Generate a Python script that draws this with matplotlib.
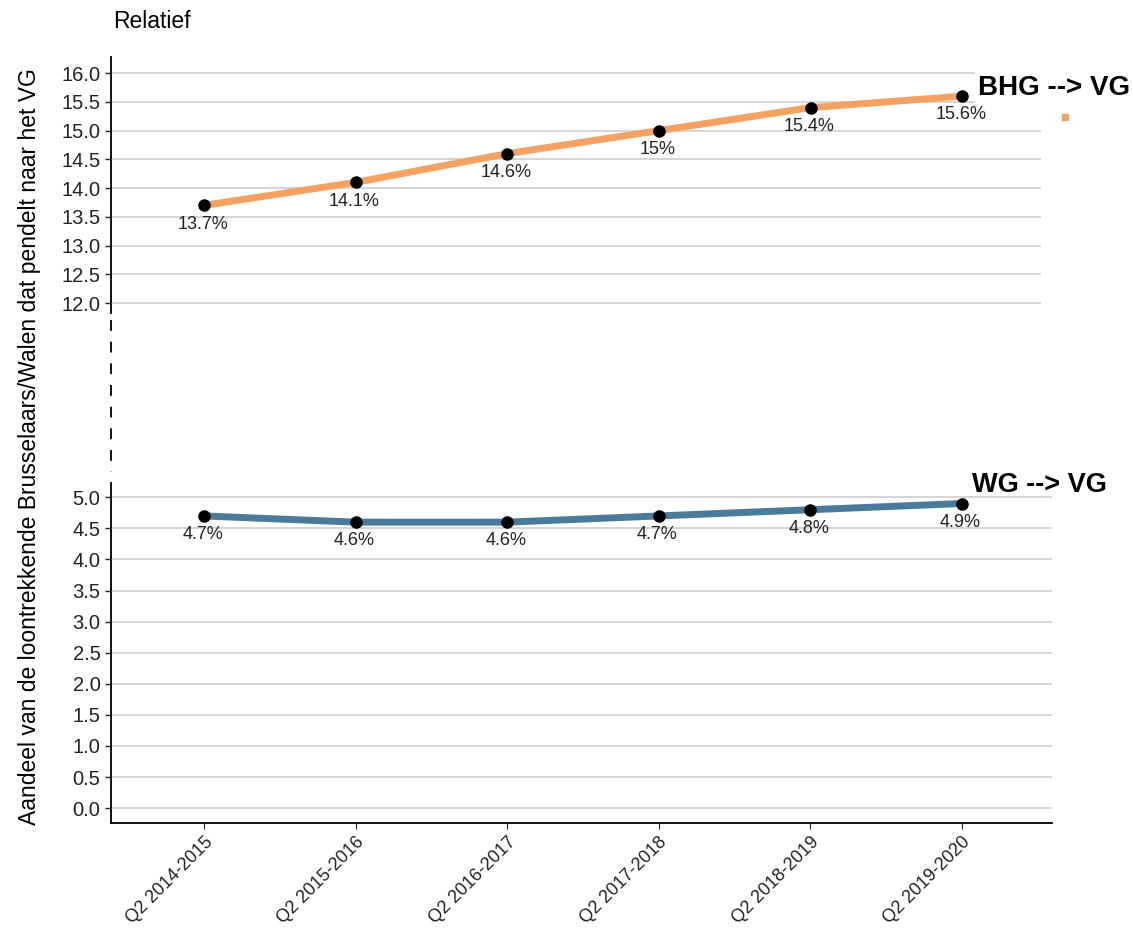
import numpy as np
import matplotlib
matplotlib.use("Agg")
import matplotlib.pyplot as plt
from matplotlib.lines import Line2D
from matplotlib.patches import Rectangle

periods = ["Q2 2014-2015", "Q2 2015-2016", "Q2 2016-2017",
           "Q2 2017-2018", "Q2 2018-2019", "Q2 2019-2020"]
bhg_vg = [13.7, 14.1, 14.6, 15.0, 15.4, 15.6]
bhg_labels = ["13.7%", "14.1%", "14.6%", "15%", "15.4%", "15.6%"]
wg_vg = [4.7, 4.6, 4.6, 4.7, 4.8, 4.9]
wg_labels = ["4.7%", "4.6%", "4.6%", "4.7%", "4.8%", "4.9%"]

top_ticks = np.arange(12.0, 16.01, 0.5)
bottom_ticks = np.arange(0.0, 5.01, 0.5)

ORANGE = "#F4A261"
BLUE = "#4A7A9C"
GRID = "#d2d2d2"

plt.rcParams["font.family"] = ["Liberation Sans", "DejaVu Sans"]

W, H = 1133, 934
fig = plt.figure(figsize=(W / 100, H / 100), dpi=100)


def px_axes(left, top, right, bottom):
    return fig.add_axes([left / W, 1 - bottom / H, (right - left) / W, (bottom - top) / H])


ax_top = px_axes(111, 57, 1041, 313)
ax_bot = px_axes(111, 483, 1052, 823)
x = np.arange(len(periods))


def draw(ax, vals, labels, color, ticks):
    ax.set_yticks(ticks)
    ax.set_yticklabels([f"{t:.1f}" for t in ticks])
    ax.grid(axis="y", color=GRID, linewidth=1.3)
    ax.set_axisbelow(True)
    ax.plot(x, vals, color=color, linewidth=5, solid_capstyle="butt", zorder=3)
    ax.plot(x, vals, "o", color="black", markersize=8, zorder=4)
    for xi, v, lab in zip(x, vals, labels):
        ax.annotate(lab, (xi, v), xytext=(-1, -13.5), textcoords="offset points",
                    ha="center", va="center", fontsize=13, color="#222222")
    for side in ("top", "right"):
        ax.spines[side].set_visible(False)
    ax.spines["left"].set_linewidth(1.3)
    ax.tick_params(axis="y", labelsize=14.5, length=4, width=1, colors="#222222")


draw(ax_top, bhg_vg, bhg_labels, ORANGE, top_ticks)
ax_top.set_ylim(11.83, 16.28)
ax_top.set_xlim(-0.613, 5.52)
ax_top.spines["bottom"].set_visible(False)
ax_top.set_xticks([])

draw(ax_bot, wg_vg, wg_labels, BLUE, bottom_ticks)
ax_bot.set_ylim(-0.24, 5.23)
ax_bot.set_xlim(-0.613, 5.594)
ax_bot.spines["bottom"].set_linewidth(1.3)
ax_bot.set_xticks(x)
ax_bot.set_xticklabels(periods, rotation=45, ha="right", rotation_mode="anchor", fontsize=13)
ax_bot.tick_params(axis="x", length=4, colors="#222222")

# dashed axis break between the panels
fig.add_artist(Line2D([111 / W, 111 / W], [1 - 320 / H, 1 - 472 / H],
                      color="black", linewidth=1.3, linestyle=(0, (6, 6))))

# series labels
fig.text(978 / W, 1 - 88 / H, "BHG --> VG", fontsize=20, fontweight="bold",
         va="center", ha="left", zorder=10,
         bbox=dict(facecolor="white", edgecolor="none", pad=2))
fig.add_artist(Rectangle((1062 / W, 1 - 120 / H), 6 / W, 6 / H, color=ORANGE))
fig.text(972 / W, 1 - 485 / H, "WG --> VG", fontsize=19.5, fontweight="bold",
         va="center", ha="left", zorder=10)

fig.text(113 / W, 1 - 22 / H, "Relatief", fontsize=16.5, va="center", ha="left")
fig.text(30 / W, 1 - 447 / H,
         "Aandeel van de loontrekkende Brusselaars/Walen dat pendelt naar het VG",
         rotation=90, fontsize=16.5, va="center", ha="center")

fig.savefig("out.png", dpi=100)
